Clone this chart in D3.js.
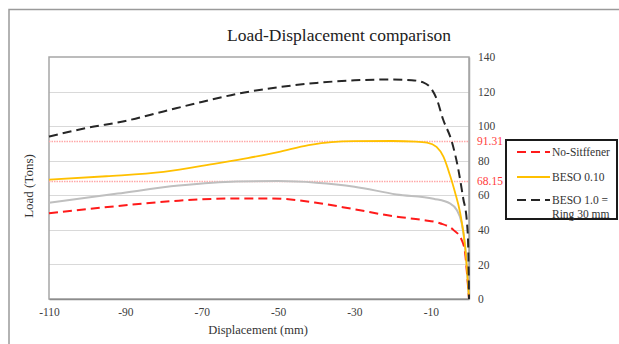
<!DOCTYPE html>
<html>
<head>
<meta charset="utf-8">
<script src="https://cdn.jsdelivr.net/npm/d3@7"></script>
<style>
  body { margin: 0; background: #fff; }
  svg { display: block; font-family: "Liberation Serif", "Times New Roman", serif; }
</style>
</head>
<body>
<div id="chart"></div>
<script>
// values: [displacement mm, load tons]
var noStiffener = [[-110,49.6],[-92,53.8],[-76,56.9],[-61,58.2],[-52,58.2],[-40,55.7],[-30,51.9],[-19,47.6],[-12,45.7],[-7.6,43.8],[-4.1,40],[-1.9,34.1],[-1,26.4],[-0.6,16.8],[0,0]];
var beso010 = [[-110,69],[-95,71],[-80,73.5],[-66,78.5],[-58,81.5],[-50,85],[-42,89],[-36,90.8],[-30,91.3],[-20,91.4],[-14,91.1],[-11,90.5],[-8.5,88],[-6.7,82.3],[-5,71.7],[-3.7,62],[-2.3,49.6],[-1,30],[0,0]];
var besoGray = [[-110,55.7],[-92,61],[-76,65.6],[-61,68],[-50,68.2],[-40,67.3],[-30,65],[-19,60.5],[-9.3,58],[-5,55.3],[-3.2,51.5],[-1.9,43.8],[-1,30],[0,0]];
var beso10 = [[-110,94],[-100,99],[-90,103],[-80,108.5],[-70,114],[-60,119],[-50,122.5],[-40,125],[-30,126.5],[-20,127],[-15,126.6],[-12,125.3],[-10,122],[-8.5,116],[-6.8,104],[-4.5,91],[-2.8,75],[-1.5,58],[-0.6,46],[-0.2,30],[0,0]];
var refLines = [91.31, 68.15];
var xTicks = [-110, -90, -70, -50, -30, -10];
var yTicks = [0, 20, 40, 60, 80, 100, 120, 140];
var legendNames = ["No-Sitffener", "BESO 0.10", "BESO 1.0 =", "Ring 30 mm"];

var width = 619, height = 344;
var margin = {left: 49, right: 150, top: 57, bottom: 45};

var svg = d3.select("#chart").append("svg")
  .attr("width", width)
  .attr("height", height);

// outer frame
svg.append("path")
  .attr("d", "M9,344V9.5H619")
  .attr("fill", "none")
  .attr("stroke", "#9a9a9a")
  .attr("stroke-width", 1.5);

var x = d3.scaleLinear().domain([-110, 0]).range([margin.left, width - margin.right]);
var y = d3.scaleLinear().domain([0, 140]).range([height - margin.bottom, margin.top]);
function py(d) { return Math.round(y(d)) + 0.5; }

// gridlines
svg.append("g").selectAll("line")
  .data(yTicks.filter(function(d){ return d > 0 && d < 140; }))
  .enter().append("line")
  .attr("x1", x(-110)).attr("x2", x(0))
  .attr("y1", py).attr("y2", py)
  .attr("stroke", "#d9d9d9").attr("stroke-width", 1);

// plot frame
svg.append("rect")
  .attr("x", x(-110)).attr("y", y(140))
  .attr("width", x(0) - x(-110)).attr("height", y(0) - y(140))
  .attr("fill", "none").attr("stroke", "#a6a6a6").attr("stroke-width", 1.5);

// axes
var xAxis = svg.append("g")
  .attr("transform", "translate(0," + y(0) + ")")
  .call(d3.axisBottom(x).tickValues(xTicks).tickSize(0).tickPadding(9)
    .tickFormat(function(d){ return String(d); }));
xAxis.select(".domain").attr("stroke", "#8c8c8c").attr("stroke-width", 1.5);
xAxis.selectAll("text").attr("font-size", 11.5).attr("fill", "#404040").attr("font-family", "Liberation Serif");

var yAxis = svg.append("g")
  .attr("transform", "translate(" + x(0) + ",0)")
  .call(d3.axisRight(y).tickValues(yTicks).tickSize(0).tickPadding(9)
    .tickFormat(function(d){ return String(d); }));
yAxis.select(".domain").attr("stroke", "#a6a6a6").attr("stroke-width", 1.5);
yAxis.selectAll("text").attr("font-size", 11.5).attr("fill", "#404040").attr("font-family", "Liberation Serif");

// reference lines
svg.append("g").selectAll("line")
  .data(refLines)
  .enter().append("line")
  .attr("x1", x(-110)).attr("x2", x(0))
  .attr("y1", py).attr("y2", py)
  .attr("stroke", "#ffa8a8").attr("stroke-width", 1.5).attr("stroke-dasharray", "1.5,1");

svg.append("g").selectAll("text")
  .data(refLines)
  .enter().append("text")
  .attr("x", x(0) + 8)
  .attr("y", function(d){ return y(d); })
  .attr("dy", "0.35em")
  .attr("font-size", 11.5)
  .attr("fill", "#ff3b3b")
  .text(function(d){ return d.toFixed(2); });

var line = d3.line()
  .x(function(d){ return x(d[0]); })
  .y(function(d){ return y(d[1]); })
  .curve(d3.curveMonotoneX);

var series = [
  {data: besoGray, color: "#bfbfbf", width: 2, dash: null},
  {data: noStiffener, color: "#ff1a1a", width: 2, dash: "9,5"},
  {data: beso010, color: "#ffc000", width: 1.8, dash: null},
  {data: beso10, color: "#262626", width: 2, dash: "9,5"}
];

svg.append("g").selectAll("path")
  .data(series)
  .enter().append("path")
  .attr("d", function(d){ return line(d.data); })
  .attr("fill", "none")
  .attr("stroke", function(d){ return d.color; })
  .attr("stroke-width", function(d){ return d.width; })
  .attr("stroke-dasharray", function(d){ return d.dash; });

// titles
svg.append("text")
  .attr("x", 339).attr("y", 41)
  .attr("text-anchor", "middle")
  .attr("font-size", 17.5)
  .attr("fill", "#222")
  .text("Load-Displacement comparison");

svg.append("text")
  .attr("transform", "translate(33,186) rotate(-90)")
  .attr("text-anchor", "middle")
  .attr("font-size", 13)
  .attr("fill", "#333")
  .text("Load (Tons)");

svg.append("text")
  .attr("x", 258).attr("y", 334)
  .attr("text-anchor", "middle")
  .attr("font-size", 12.5)
  .attr("fill", "#333")
  .text("Displacement (mm)");

// legend
var legend = svg.append("g");
legend.append("rect")
  .attr("x", 506).attr("y", 140)
  .attr("width", 111).attr("height", 79)
  .attr("fill", "#fff").attr("stroke", "#1a1a1a").attr("stroke-width", 2);

var legendRows = [
  {s: series[1], y: 152, label: [legendNames[0]]},
  {s: series[2], y: 177, label: [legendNames[1]]},
  {s: series[3], y: 200, label: [legendNames[2], legendNames[3]]}
];

legendRows.forEach(function(r){
  legend.append("line")
    .attr("x1", 517).attr("x2", 550)
    .attr("y1", r.y).attr("y2", r.y)
    .attr("stroke", r.s.color)
    .attr("stroke-width", r.s.width)
    .attr("stroke-dasharray", r.s.dash);
  r.label.forEach(function(t, i){
    legend.append("text")
      .attr("x", 552).attr("y", r.y + i * 14)
      .attr("dy", "0.35em")
      .attr("font-size", 11.5)
      .attr("fill", "#333")
      .text(t);
  });
});
</script>
</body>
</html>
